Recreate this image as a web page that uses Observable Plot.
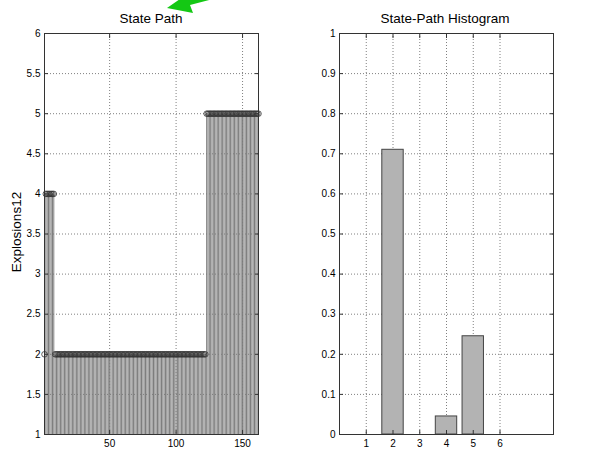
<!DOCTYPE html>
<html>
<head>
<meta charset="utf-8">
<script src="https://cdn.jsdelivr.net/npm/d3@7"></script>
<script src="https://cdn.jsdelivr.net/npm/@observablehq/plot@0.6"></script>
<style>
body{margin:0;background:#fff;}
#wrap{position:relative;width:610px;height:451px;font-family:"Liberation Sans",Arial,Helvetica,sans-serif;color:#000;overflow:hidden;}
#left,#right{position:absolute;top:0;}
#left{left:0;}
#right{left:300px;}
.title{position:absolute;top:11px;font-size:13.5px;line-height:16px;transform:translateX(-50%);white-space:nowrap;}
.ylab{position:absolute;left:17px;top:232px;font-size:13.5px;line-height:16px;transform:translate(-50%,-50%) rotate(-90deg);white-space:nowrap;}
#arrow{position:absolute;left:0;top:0;pointer-events:none;}
</style>
</head>
<body>
<div id="wrap">
  <div id="left"></div>
  <div id="right"></div>
  <div class="title" style="left:151px">State Path</div>
  <div class="title" style="left:445px">State-Path Histogram</div>
  <div class="ylab">Explosions12</div>
  <svg id="arrow" width="610" height="451"><polygon points="167,8 180,-1 213,-1 190,5 193,13" fill="#14c814"/></svg>
</div>
<script>
// State path (one state per time step, 162 steps)
const statePath = [
  2,
  4,4,4,4,4,4,4,
  2,2,2,2,2,2,2,2,2,2,2,2,2,2,2,2,2,2,2,2,
  2,2,2,2,2,2,2,2,2,2,2,2,2,2,2,2,2,2,2,2,
  2,2,2,2,2,2,2,2,2,2,2,2,2,2,2,2,2,2,2,2,
  2,2,2,2,2,2,2,2,2,2,2,2,2,2,2,2,2,2,2,2,
  2,2,2,2,2,2,2,2,2,2,2,2,2,2,2,2,2,2,2,2,
  2,2,2,2,2,2,2,2,2,2,2,2,2,2,
  5,5,5,5,5,5,5,5,5,5,5,5,5,5,5,5,5,5,5,5,
  5,5,5,5,5,5,5,5,5,5,5,5,5,5,5,5,5,5,5,5
];
const leftXTicks = [50, 100, 150];
const leftYTicks = [1, 1.5, 2, 2.5, 3, 3.5, 4, 4.5, 5, 5.5, 6];

// Histogram
const histStates = [1, 2, 3, 4, 5, 6];
const histFraction = [0, 0.71, 0, 0.045, 0.245, 0];
const rightYTicks = [0, 0.1, 0.2, 0.3, 0.4, 0.5, 0.6, 0.7, 0.8, 0.9, 1];

const font = '"Liberation Sans",Arial,Helvetica,sans-serif';
const gridStyle = {stroke: "#808080", strokeOpacity: 1, strokeDasharray: "1,2"};
const frameColor = "#333";

const pathData = statePath.map((s, i) => ({i: i + 1, s}));

function inwardTicks(xt, yt) {
  return [
    Plot.axisY({anchor: "left", ticks: yt, tickSize: 4, dx: 4, tickFormat: () => "", label: null, stroke: frameColor}),
    Plot.axisY({anchor: "right", ticks: yt, tickSize: 4, dx: -4, tickFormat: () => "", label: null, stroke: frameColor}),
    Plot.axisX({anchor: "bottom", ticks: xt, tickSize: 4, dy: -4, tickFormat: () => "", label: null, stroke: frameColor}),
    Plot.axisX({anchor: "top", ticks: xt, tickSize: 4, dy: 4, tickFormat: () => "", label: null, stroke: frameColor})
  ];
}

const left = Plot.plot({
  width: 300, height: 451,
  marginLeft: 44, marginRight: 42, marginTop: 33, marginBottom: 17,
  style: {fontFamily: font, fontSize: "10px", color: "#000", background: "transparent", overflow: "visible"},
  x: {domain: [1, 162]},
  y: {domain: [1, 6]},
  marks: [
    Plot.gridX({ticks: leftXTicks, ...gridStyle}),
    Plot.gridY({ticks: leftYTicks, ...gridStyle}),
    Plot.ruleX(pathData, {x: "i", y1: 1, y2: "s", stroke: "#7c7c7c", strokeWidth: 1}),
    Plot.dot(pathData, {x: "i", y: "s", r: 2.8, stroke: "#333", strokeWidth: 0.8, fill: "none"}),
    Plot.frame({stroke: frameColor}),
    ...inwardTicks(leftXTicks, leftYTicks),
    Plot.axisX({ticks: leftXTicks, tickSize: 0, tickPadding: 5, label: null}),
    Plot.axisY({ticks: leftYTicks, tickSize: 0, tickPadding: 4, label: null, tickFormat: d => String(d)})
  ]
});
document.getElementById("left").appendChild(left);

const histData = histStates.map((s, i) => ({s, f: histFraction[i]})).filter(d => d.f > 0);

const right = Plot.plot({
  width: 310, height: 451,
  marginLeft: 39, marginRight: 57, marginTop: 33, marginBottom: 17,
  style: {fontFamily: font, fontSize: "10px", color: "#000", background: "transparent", overflow: "visible"},
  x: {domain: [0, 8]},
  y: {domain: [0, 1]},
  marks: [
    Plot.gridX({ticks: histStates, ...gridStyle}),
    Plot.gridY({ticks: rightYTicks, ...gridStyle}),
    Plot.rect(histData, {x1: d => d.s - 0.4, x2: d => d.s + 0.4, y1: 0, y2: "f", fill: "#b3b3b3", stroke: "#444", strokeWidth: 1}),
    Plot.frame({stroke: frameColor}),
    ...inwardTicks(histStates, rightYTicks),
    Plot.axisX({ticks: histStates, tickSize: 0, tickPadding: 5, label: null}),
    Plot.axisY({ticks: rightYTicks, tickSize: 0, tickPadding: 4, label: null, tickFormat: d => String(d)})
  ]
});
document.getElementById("right").appendChild(right);
</script>
</body>
</html>
